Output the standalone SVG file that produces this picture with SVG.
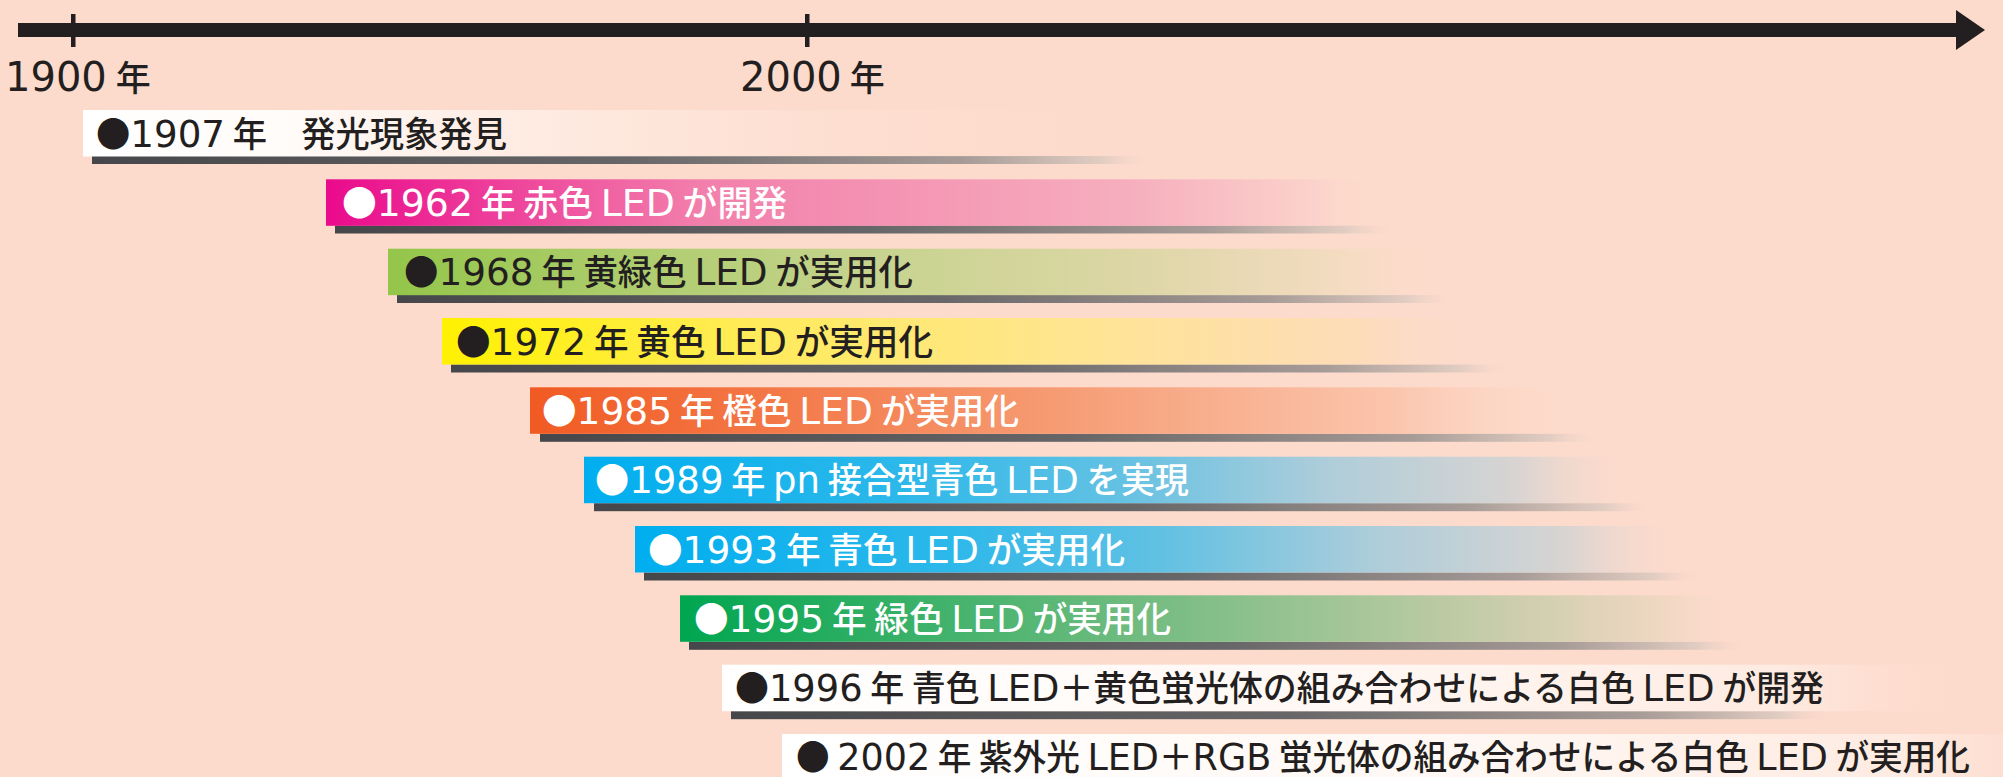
<svg xmlns="http://www.w3.org/2000/svg" width="2003" height="777" viewBox="0 0 2003 777">
<style>
.t{font-family:"Noto Sans CJK JP",sans-serif;font-size:35px;font-weight:500}
.l{font-family:"DejaVu Sans",sans-serif;font-size:38px;font-weight:400}
.la{font-family:"DejaVu Sans",sans-serif;font-size:40px;font-weight:400}
.k{fill:#231f20}
.w{fill:#ffffff}
</style>
<defs>
<linearGradient id="gs"><stop offset="0" stop-color="#46474a"/><stop offset="0.5" stop-color="#666567"/><stop offset="0.82" stop-color="#a69b97"/><stop offset="0.95" stop-color="#e2cdc2"/><stop offset="1" stop-color="#fddbcc" stop-opacity="0"/></linearGradient>
<linearGradient id="gw1"><stop offset="0" stop-color="#ffffff"/><stop offset="0.2" stop-color="#fffbf8"/><stop offset="1" stop-color="#fddbcc" stop-opacity="0"/></linearGradient>
<linearGradient id="gw2"><stop offset="0" stop-color="#ffffff"/><stop offset="0.5" stop-color="#fff8f4"/><stop offset="0.85" stop-color="#feebe2"/><stop offset="1" stop-color="#fddbcc" stop-opacity="0"/></linearGradient>
<linearGradient id="g2"><stop offset="0" stop-color="#ea0a8c"/><stop offset="0.35" stop-color="#f27eab"/><stop offset="0.76" stop-color="#f6afbe"/><stop offset="0.93" stop-color="#fbd2cb"/><stop offset="1" stop-color="#fddbcc" stop-opacity="0"/></linearGradient>
<linearGradient id="g3"><stop offset="0" stop-color="#94c64a"/><stop offset="0.45" stop-color="#c6d38e"/><stop offset="0.7" stop-color="#dcd6a5"/><stop offset="0.92" stop-color="#f6dcc4"/><stop offset="1" stop-color="#fddbcc" stop-opacity="0"/></linearGradient>
<linearGradient id="g4"><stop offset="0" stop-color="#fff100"/><stop offset="0.3" stop-color="#ffeb5a"/><stop offset="0.64" stop-color="#ffe496"/><stop offset="0.88" stop-color="#fddcb8"/><stop offset="1" stop-color="#fddbcc" stop-opacity="0"/></linearGradient>
<linearGradient id="g5"><stop offset="0" stop-color="#f15a22"/><stop offset="0.5" stop-color="#f69c74"/><stop offset="0.82" stop-color="#fbc6ae"/><stop offset="1" stop-color="#fddbcc" stop-opacity="0"/></linearGradient>
<linearGradient id="g6"><stop offset="0" stop-color="#00aeef"/><stop offset="0.3" stop-color="#2db8ea"/><stop offset="0.5" stop-color="#62c1e3"/><stop offset="0.7" stop-color="#aecdda"/><stop offset="0.88" stop-color="#d8d4d2"/><stop offset="1" stop-color="#fddbcc" stop-opacity="0"/></linearGradient>
<linearGradient id="g8"><stop offset="0" stop-color="#00a650"/><stop offset="0.5" stop-color="#84bf88"/><stop offset="0.78" stop-color="#cbcdac"/><stop offset="0.93" stop-color="#f2d8c4"/><stop offset="1" stop-color="#fddbcc" stop-opacity="0"/></linearGradient>
</defs>
<rect width="2003" height="777" fill="#fddbcc"/>
<g id="axis">
<rect x="18" y="23" width="1940" height="14" fill="#231f20"/>
<polygon points="1956,10 1985,30 1956,50" fill="#231f20"/>
<rect x="71" y="14" width="4.5" height="33" fill="#231f20"/>
<rect x="805" y="14" width="4.5" height="33" fill="#231f20"/>
<text class="t k" x="5" y="91"><tspan class="la">1900</tspan><tspan dx="9">年</tspan></text>
<text class="t k" x="740" y="91"><tspan class="la">2000</tspan><tspan dx="8">年</tspan></text>
</g>
<g id="event-1907">
<rect x="92" y="156" width="1063" height="8" fill="url(#gs)"/>
<rect x="83" y="110" width="1044" height="46.5" fill="url(#gw1)"/>
<text class="t k" x="96" y="146.5" textLength="411" lengthAdjust="spacingAndGlyphs">●<tspan class="l">1907</tspan> 年　発光現象発見</text>
</g>
<g id="event-1962">
<rect x="335" y="225.5" width="1065" height="8" fill="url(#gs)"/>
<rect x="326" y="179.3" width="1062" height="46.5" fill="url(#g2)"/>
<text class="t w" x="342" y="216" textLength="445" lengthAdjust="spacingAndGlyphs">●<tspan class="l">1962</tspan> 年 赤色 <tspan class="l">LED</tspan> が開発</text>
</g>
<g id="event-1968">
<rect x="397" y="295" width="1063" height="8" fill="url(#gs)"/>
<rect x="388" y="248.7" width="1057" height="46.5" fill="url(#g3)"/>
<text class="t k" x="404" y="285.2" textLength="509" lengthAdjust="spacingAndGlyphs">●<tspan class="l">1968</tspan> 年 黄緑色 <tspan class="l">LED</tspan> が実用化</text>
</g>
<g id="event-1972">
<rect x="451" y="364.5" width="1064" height="8" fill="url(#gs)"/>
<rect x="442" y="318" width="1038" height="46.5" fill="url(#g4)"/>
<text class="t k" x="456" y="354.5" textLength="477" lengthAdjust="spacingAndGlyphs">●<tspan class="l">1972</tspan> 年 黄色 <tspan class="l">LED</tspan> が実用化</text>
</g>
<g id="event-1985">
<rect x="540" y="433.8" width="1064" height="8" fill="url(#gs)"/>
<rect x="530" y="387.3" width="1060" height="46.5" fill="url(#g5)"/>
<text class="t w" x="542" y="423.8" textLength="477" lengthAdjust="spacingAndGlyphs">●<tspan class="l">1985</tspan> 年 橙色 <tspan class="l">LED</tspan> が実用化</text>
</g>
<g id="event-1989">
<rect x="594" y="503.2" width="1065" height="8" fill="url(#gs)"/>
<rect x="584" y="456.7" width="1060" height="46.5" fill="url(#g6)"/>
<text class="t w" x="595" y="493.2" textLength="594" lengthAdjust="spacingAndGlyphs">●<tspan class="l">1989</tspan> 年 <tspan class="l">pn</tspan> 接合型青色 <tspan class="l">LED</tspan> を実現</text>
</g>
<g id="event-1993">
<rect x="644" y="572.5" width="1064" height="8" fill="url(#gs)"/>
<rect x="635" y="526" width="1058" height="46.5" fill="url(#g6)"/>
<text class="t w" x="648" y="562.5" textLength="477" lengthAdjust="spacingAndGlyphs">●<tspan class="l">1993</tspan> 年 青色 <tspan class="l">LED</tspan> が実用化</text>
</g>
<g id="event-1995">
<rect x="689" y="641.8" width="1063" height="8" fill="url(#gs)"/>
<rect x="680" y="595.3" width="1065" height="46.5" fill="url(#g8)"/>
<text class="t w" x="694" y="631.8" textLength="477" lengthAdjust="spacingAndGlyphs">●<tspan class="l">1995</tspan> 年 緑色 <tspan class="l">LED</tspan> が実用化</text>
</g>
<g id="event-1996">
<rect x="731" y="711.2" width="1107" height="8" fill="url(#gs)"/>
<rect x="722" y="664.7" width="1244" height="46.5" fill="url(#gw2)"/>
<text class="t k" x="735" y="701.2" textLength="1089" lengthAdjust="spacingAndGlyphs">●<tspan class="l">1996</tspan> 年 青色 <tspan class="l">LED</tspan>＋黄色蛍光体の組み合わせによる白色 <tspan class="l">LED</tspan> が開発</text>
</g>
<g id="event-2002">
<rect x="782" y="734" width="1320" height="46.5" fill="url(#gw2)"/>
<text class="t k" x="796" y="770" textLength="1174" lengthAdjust="spacingAndGlyphs">● <tspan class="l">2002</tspan> 年 紫外光 <tspan class="l">LED</tspan>＋<tspan class="l">RGB</tspan> 蛍光体の組み合わせによる白色 <tspan class="l">LED</tspan> が実用化</text>
</g>
</svg>
